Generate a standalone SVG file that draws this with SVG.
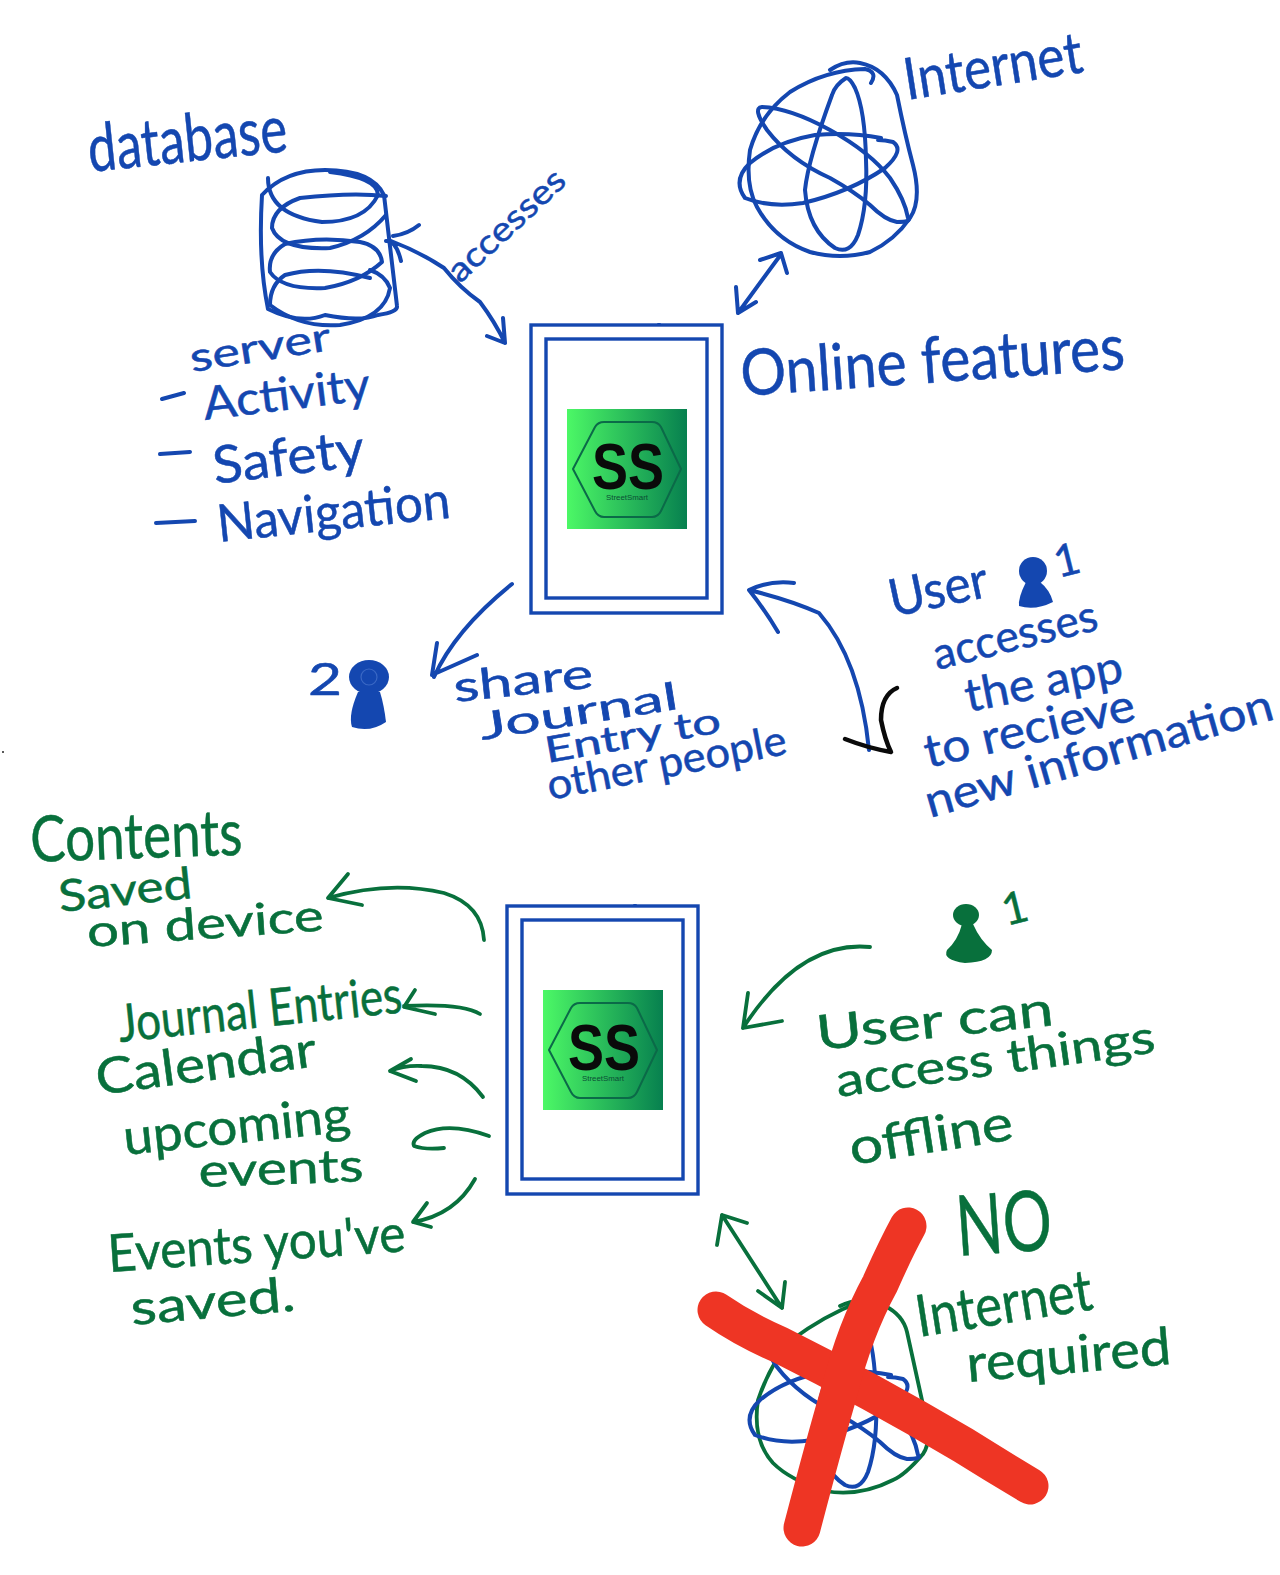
<svg xmlns="http://www.w3.org/2000/svg" xmlns:xlink="http://www.w3.org/1999/xlink" width="1280" height="1575" viewBox="0 0 1280 1575">
<style>
.b{fill:none;stroke:#1447b0;stroke-width:4;stroke-linecap:round;stroke-linejoin:round}
.g{fill:none;stroke:#08703c;stroke-width:3.8;stroke-linecap:round;stroke-linejoin:round}
.r{fill:none;stroke:#ee3524;stroke-width:37;stroke-linecap:round;stroke-linejoin:round}
.k{fill:none;stroke:#0a0a0a;stroke-width:4.5;stroke-linecap:round;stroke-linejoin:round}
.tb,.tg{font-family:"Lato","Open Sans",sans-serif;stroke-width:.5}
.tb{fill:#1447b0;stroke:#1447b0}
.tg{fill:#08703c;stroke:#08703c}
.frame{fill:none;stroke:#1447b0;stroke-width:3.4}
.hex{fill:none;stroke:#0b6a48;stroke-width:2;stroke-linejoin:round}
.ss{font-family:"Liberation Sans",sans-serif;font-weight:700;font-size:64px;fill:#0a0a0a;text-anchor:middle}
.st{font-family:"Liberation Sans",sans-serif;font-size:8px;fill:#0b4f35;text-anchor:middle}
</style>
<defs>
<linearGradient id="lg" x1="0" y1="0" x2="1" y2="0"><stop offset="0" stop-color="#4cf866"/><stop offset="1" stop-color="#07804f"/></linearGradient>
<g id="phone">
<rect class="frame" x="531" y="325" width="191" height="288"/>
<rect class="frame" x="546" y="339" width="161" height="259"/>
<path class="frame" d="M659 323v2" />
<rect x="567" y="409" width="120" height="120" fill="url(#lg)"/>
<path class="hex" d="M573 469L595 427Q598 422 604 422H652Q658 422 661 427L681 469L661 511Q658 517 652 517H604Q598 517 595 511Z"/>
<text class="ss" x="628" y="489" textLength="72" lengthAdjust="spacingAndGlyphs">SS</text>
<text class="st" x="627" y="500" textLength="42" lengthAdjust="spacingAndGlyphs">StreetSmart</text>
</g>
<g id="atoms">
<path class="b" d="M846 78Q835 85 832 95Q808 160 805 190Q808 230 835 248Q850 255 858 235Q868 205 866 160Q865 110 855 88Q850 78 846 78Z"/>
<path class="b" d="M881 138Q850 132 815 135Q775 142 750 163Q732 180 745 198Q770 208 803 203Q850 192 885 168Q905 150 893 142Q885 140 878 140"/>
<path class="b" d="M767 130Q752 108 762 107Q790 108 830 130Q870 152 890 178Q905 200 908 218Q912 222 897 222Q885 220 870 205Q855 192 830 178Q790 160 767 130Z"/>
</g>
</defs>
<rect width="1280" height="1575" fill="#ffffff"/>
<circle cx="3" cy="752" r="1" fill="#222"/>

<g id="connectors">
<path class="b" d="M391 241Q420 252 444 268Q460 288 480 302Q495 322 505 343M419 225Q408 234 393 236M386 241Q396 240 401 261M503 318L505 343L487 336"/>
<path class="b" d="M738 313L779 257M736 287L738 313L756 302M760 260L781 253L787 273"/>
<path class="b" d="M512 584Q455 630 434 677M437 643L432 675L477 655"/>
<path class="b" d="M749 590Q790 600 819 613Q860 660 869 750M794 583Q770 580 749 590Q765 610 778 632"/>
<path class="k" d="M897 688Q881 695 881 720Q885 740 891 752Q868 748 845 739"/>
<path class="g" d="M484 940Q482 905 444 893Q390 880 328 898M348 874L328 898L362 905"/>
<path class="g" d="M480 1014Q462 1003 404 1006M415 990L404 1007L435 1014"/>
<path class="g" d="M483 1097Q460 1066 422 1066Q405 1065 390 1071M411 1059L390 1071L416 1081"/>
<path class="g" d="M489 1136Q450 1122 425 1133Q411 1140 414 1146Q425 1150 444 1148"/>
<path class="g" d="M475 1179Q455 1215 413 1222M427 1203L413 1222L431 1227"/>
<path class="g" d="M870 947Q800 940 743 1028M748 993L743 1028L782 1021"/>
<path class="g" d="M722 1215L782 1308M717 1245L722 1215L747 1223M758 1291L782 1308L785 1282"/>
</g>

<g id="database">
<path class="b" d="M262 195Q258 260 268 309Q300 325 325 315Q360 322 378 315Q398 312 397 306L384 195Q372 170 325 170Q285 170 262 195"/>
<path class="b" d="M268 178Q268 215 322 222Q365 222 378 195Q378 178 330 172"/>
<path class="b" d="M386 196Q352 192 300 198Q272 208 272 228Q280 250 330 248Q365 240 386 215"/>
<path class="b" d="M360 242Q320 236 285 244Q268 254 270 272Q282 290 325 288Q360 282 382 262Q380 246 360 242"/>
<path class="b" d="M370 278Q320 265 285 275Q270 285 270 305Q300 328 340 325Q385 318 390 288Q385 275 370 270"/>
<text class="tb" x="90" y="172" font-size="66" textLength="200" lengthAdjust="spacingAndGlyphs" transform="rotate(-6 90 172)">database</text>
<text class="tb" x="192" y="372" font-size="40" textLength="142" lengthAdjust="spacingAndGlyphs" transform="rotate(-9 192 372)">server</text>
<text class="tb" x="205" y="420" font-size="46" textLength="168" lengthAdjust="spacingAndGlyphs" transform="rotate(-7 205 420)">Activity</text>
<text class="tb" x="215" y="484" font-size="52" textLength="152" lengthAdjust="spacingAndGlyphs" transform="rotate(-7 215 484)">Safety</text>
<text class="tb" x="219" y="542" font-size="52" textLength="234" lengthAdjust="spacingAndGlyphs" transform="rotate(-6 219 542)">Navigation</text>
<path class="b" d="M162 399L184 393M160 454L190 452M156 523L195 521"/>
<text class="tb" x="460" y="284" font-size="34" textLength="148" lengthAdjust="spacingAndGlyphs" transform="rotate(-43 460 284)">accesses</text>
</g>

<g id="internet">
<path class="b" d="M830 70Q845 60 860 63Q885 68 897 95Q905 135 913 165Q922 200 910 218Q895 240 870 252Q840 260 810 252Q775 240 757 207Q745 185 750 150Q760 115 790 92Q825 70 865 69Q878 72 871 83"/>
<use xlink:href="#atoms" href="#atoms"/>
<text class="tb" x="907" y="100" font-size="58" textLength="180" lengthAdjust="spacingAndGlyphs" transform="rotate(-9 907 100)">Internet</text>
<text class="tb" x="742" y="396" font-size="64" textLength="385" lengthAdjust="spacingAndGlyphs" transform="rotate(-4 742 396)">Online features</text>
</g>

<g id="phone-online"><use xlink:href="#phone" href="#phone"/></g>

<g id="user-1-online">
<ellipse cx="1033" cy="571" rx="14" ry="14" fill="#1447b0"/>
<path d="M1026 582Q1018 598 1019 606Q1035 611 1053 602Q1050 590 1040 582Z" fill="#1447b0"/>
<text class="tb" x="1058" y="578" font-size="44" transform="rotate(-14 1058 578)">1</text>
<text class="tb" x="893" y="617" font-size="52" textLength="100" lengthAdjust="spacingAndGlyphs" transform="rotate(-12 893 617)">User</text>
<text class="tb" x="937" y="670" font-size="44" textLength="168" lengthAdjust="spacingAndGlyphs" transform="rotate(-14 937 670)">accesses</text>
<text class="tb" x="968" y="712" font-size="46" textLength="160" lengthAdjust="spacingAndGlyphs" transform="rotate(-11 968 712)">the app</text>
<text class="tb" x="928" y="768" font-size="46" textLength="215" lengthAdjust="spacingAndGlyphs" transform="rotate(-13 928 768)">to recieve</text>
<text class="tb" x="930" y="818" font-size="46" textLength="360" lengthAdjust="spacingAndGlyphs" transform="rotate(-16 930 818)">new information</text>
</g>

<g id="user-2-online">
<text class="tb" x="308" y="695" font-size="44" textLength="34" lengthAdjust="spacingAndGlyphs">2</text>
<ellipse cx="369" cy="677" rx="20" ry="17" fill="#1447b0"/>
<path d="M358 692Q348 715 352 727Q370 733 386 722Q384 705 380 692Z" fill="#1447b0"/>
<circle cx="369" cy="677" r="8" fill="none" stroke="#3a68c4" stroke-width="1.2"/>
<text class="tb" x="455" y="702" font-size="42" textLength="140" lengthAdjust="spacingAndGlyphs" transform="rotate(-6 455 702)">share</text>
<text class="tb" x="482" y="740" font-size="38" textLength="200" lengthAdjust="spacingAndGlyphs" transform="rotate(-9 482 740)">Journal</text>
<text class="tb" x="547" y="763" font-size="36" textLength="178" lengthAdjust="spacingAndGlyphs" transform="rotate(-10 547 763)">Entry to</text>
<text class="tb" x="550" y="800" font-size="42" textLength="243" lengthAdjust="spacingAndGlyphs" transform="rotate(-11 550 800)">other people</text>
</g>

<g id="phone-offline"><use xlink:href="#phone" href="#phone" transform="translate(-24 581)"/></g>

<g id="contents">
<text class="tg" x="31" y="862" font-size="64" textLength="212" lengthAdjust="spacingAndGlyphs" transform="rotate(-2 31 862)">Contents</text>
<text class="tg" x="60" y="912" font-size="44" textLength="134" lengthAdjust="spacingAndGlyphs" transform="rotate(-6 60 912)">Saved</text>
<text class="tg" x="88" y="947" font-size="44" textLength="237" lengthAdjust="spacingAndGlyphs" transform="rotate(-4 88 947)">on device</text>
<text class="tg" x="120" y="1042" font-size="52" textLength="285" lengthAdjust="spacingAndGlyphs" transform="rotate(-6 120 1042)">Journal Entries</text>
<text class="tg" x="98" y="1095" font-size="50" textLength="222" lengthAdjust="spacingAndGlyphs" transform="rotate(-7.5 98 1095)">Calendar</text>
<text class="tg" x="125" y="1155" font-size="50" textLength="228" lengthAdjust="spacingAndGlyphs" transform="rotate(-6 125 1155)">upcoming</text>
<text class="tg" x="199" y="1187" font-size="46" textLength="165" lengthAdjust="spacingAndGlyphs" transform="rotate(-2 199 1187)">events</text>
<text class="tg" x="109" y="1272" font-size="52" textLength="298" lengthAdjust="spacingAndGlyphs" transform="rotate(-4 109 1272)">Events you've</text>
<text class="tg" x="132" y="1325" font-size="48" textLength="165" lengthAdjust="spacingAndGlyphs" transform="rotate(-5 132 1325)">saved.</text>
</g>

<g id="user-offline">
<ellipse cx="966" cy="915" rx="13" ry="11" fill="#08703c"/>
<path d="M962 924Q958 940 947 950Q942 960 965 963Q992 962 992 950Q980 940 973 924Z" fill="#08703c"/>
<text class="tg" x="1006" y="926" font-size="44" transform="rotate(-14 1006 926)">1</text>
<text class="tg" x="818" y="1050" font-size="48" textLength="238" lengthAdjust="spacingAndGlyphs" transform="rotate(-6 818 1050)">User can</text>
<text class="tg" x="838" y="1097" font-size="46" textLength="322" lengthAdjust="spacingAndGlyphs" transform="rotate(-8 838 1097)">access things</text>
<text class="tg" x="852" y="1165" font-size="50" textLength="165" lengthAdjust="spacingAndGlyphs" transform="rotate(-9 852 1165)">offline</text>
</g>

<g id="no-internet">
<path class="g" d="M840 1306Q860 1296 885 1306Q903 1315 907 1332L927 1423Q930 1445 923 1454Q905 1475 893 1480Q860 1497 825 1491Q790 1480 773 1463Q752 1440 758 1400Q770 1365 790 1341Q825 1315 860 1302"/>
<use xlink:href="#atoms" href="#atoms" transform="translate(10 1237)"/>
<path class="r" d="M716 1310Q745 1330 780 1345Q870 1390 963 1445Q995 1465 1030 1486"/>
<path class="r" d="M908 1226Q895 1250 880 1284Q855 1330 840 1389Q825 1440 802 1528"/>
<text class="tg" x="958" y="1256" font-size="84" textLength="96" lengthAdjust="spacingAndGlyphs" transform="rotate(-4 958 1256)">NO</text>
<text class="tg" x="919" y="1337" font-size="58" textLength="178" lengthAdjust="spacingAndGlyphs" transform="rotate(-9 919 1337)">Internet</text>
<text class="tg" x="968" y="1382" font-size="52" textLength="205" lengthAdjust="spacingAndGlyphs" transform="rotate(-5 968 1382)">required</text>
</g>
</svg>
